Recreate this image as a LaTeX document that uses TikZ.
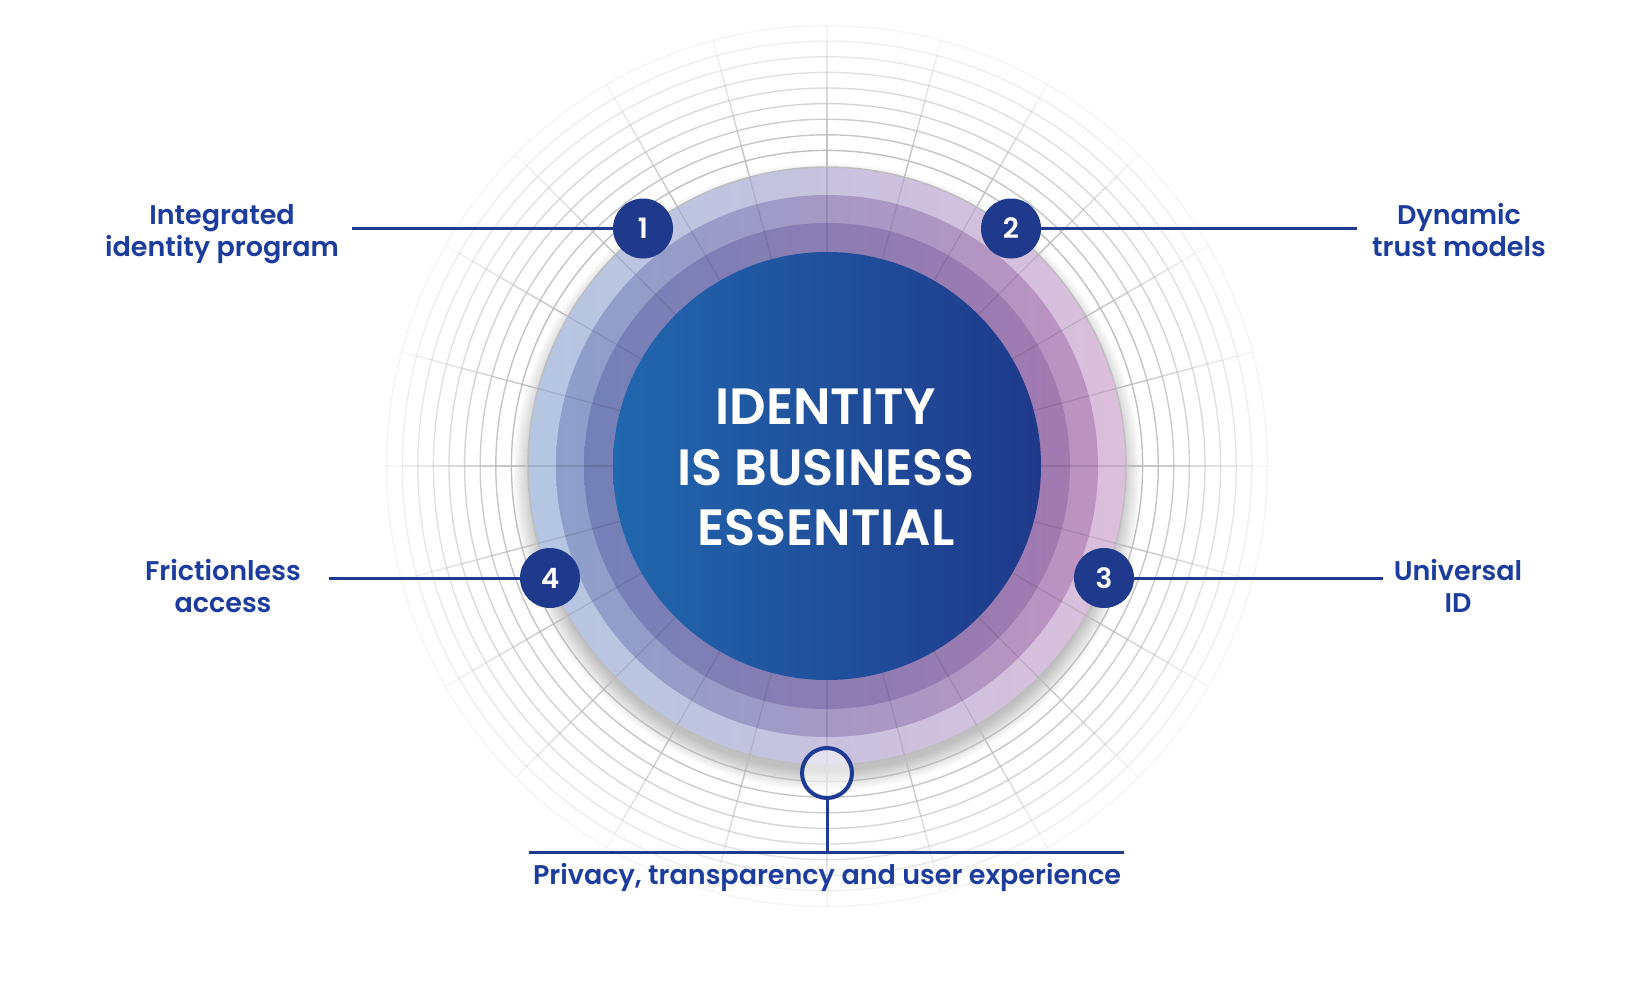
\documentclass[tikz,border=0pt]{standalone}
\usepackage{fontspec}
\setmainfont{Poppins}[BoldFont={Poppins SemiBold}]
\usetikzlibrary{calc}
\definecolor{navy}{HTML}{1F3A8C}
\definecolor{txtblue}{HTML}{1C3D9E}
\definecolor{linec}{HTML}{1F3A93}
\definecolor{gridc}{HTML}{BDBDBD}
\definecolor{ringAL}{HTML}{B4C6E2}
\definecolor{ringAR}{HTML}{DCBFDC}
\definecolor{ringBL}{HTML}{8C9FCA}
\definecolor{ringBR}{HTML}{BD92C0}
\definecolor{ringCL}{HTML}{7380B8}
\definecolor{ringCR}{HTML}{A37AAF}
\definecolor{coreL}{HTML}{2067AE}
\definecolor{coreM}{HTML}{1E4593}
\definecolor{coreR}{HTML}{1F398A}
\begin{document}
\begin{tikzpicture}[x=1pt,y=-1pt,
  lbl/.style={text=txtblue, font=\fontsize{27}{32}\selectfont\bfseries, anchor=base, inner sep=0pt},
  badge/.style={circle, fill=navy, minimum size=60pt, inner sep=0pt, text=white, font=\fontsize{28}{28}\selectfont\bfseries},
  conn/.style={draw=linec, line width=3pt},
  ctext/.style={text=white, font=\fontsize{51}{51}\selectfont\bfseries, anchor=base, inner sep=0pt}]
\useasboundingbox (0,0) rectangle (1640,988);
\fill[white] (0,0) rectangle (1640,988);
\coordinate (O) at (827,466);
% soft shadow
\foreach \i in {0,...,20}{
  \fill[black, opacity=0.013] (827,477) circle[radius={294pt+\i*1pt}];
}
% grid circles
\foreach \k in {1,...,9}{
  \pgfmathsetmacro\op{1.05-0.1*\k}
  \draw[gridc, line width=1.4pt, opacity=\op] (O) circle[radius={300pt+15.6pt*\k}];
}
% outer radial grid
\foreach \a in {0,15,...,345}{
  \foreach \k in {0,...,8}{
    \pgfmathsetmacro\op{0.95-0.1*\k}
    \draw[gridc, opacity=\op, line width=1.4pt] ($(O)+(\a:{300pt+15.6pt*\k})$) -- ($(O)+(\a:{300pt+15.6pt*(\k+1)})$);
  }
}
% rings
\shade[left color=ringAL, right color=ringAR] (O) circle[radius=299pt];
\draw[gridc, line width=1.4pt] (O) circle[radius=299pt];
\shade[left color=ringBL, right color=ringBR] (O) circle[radius=271pt];
\shade[left color=ringCL, right color=ringCR] (O) circle[radius=243pt];
\foreach \a in {0,15,...,345}{
  \draw[black, opacity=0.1, line width=1.3pt] ($(O)+(\a:214pt)$) -- ($(O)+(\a:299pt)$);
}
% core
\shade[left color=coreL, middle color=coreM, right color=coreR] (O) circle[radius=214pt];
\node[ctext] (t1) at (826,424.7) {IDENTITY};
\node[ctext] (t2) at (826,485.5) {IS BUSINESS};
\node[ctext] (t3) at (826,545.5) {ESSENTIAL};
% badges
\node[badge] (b1) at (643,228.5) {1};
\node[badge] (b2) at (1011,228.5) {2};
\node[badge] (b3) at (1104,578) {3};
\node[badge] (b4) at (550,578) {4};
\node[circle, draw=linec, line width=4pt, fill=white, fill opacity=0.55, minimum size=50pt, inner sep=0pt] (b5) at (827,773) {};
% connectors
\coordinate (e1) at (352,228.5);
\coordinate (e2) at (1357,228.5);
\coordinate (e3) at (1383,578);
\coordinate (e4) at (329,578);
\coordinate (e5) at (827,852);
\coordinate (eL) at (529,852);
\coordinate (eR) at (1124,852);
\draw[conn] (e1) -- (b1);
\draw[conn] (b2) -- (e2);
\draw[conn] (b3) -- (e3);
\draw[conn] (e4) -- (b4);
\draw[conn] (b5) -- (e5);
\draw[conn] (eL) -- (eR);
% labels
\node[lbl] (l1a) at (222,224.8) {Integrated};
\node[lbl] (l1b) at (222,256) {identity program};
\node[lbl] (l2a) at (1459,224.8) {Dynamic};
\node[lbl] (l2b) at (1459,256) {trust models};
\node[lbl] (l3a) at (1458,580) {Universal};
\node[lbl] (l3b) at (1458,612.5) {ID};
\node[lbl] (l4a) at (223,580) {Frictionless};
\node[lbl] (l4b) at (223,612.5) {access};
\node[lbl] (l5) at (827,884) {Privacy, transparency and user experience};
\end{tikzpicture}
\end{document}
